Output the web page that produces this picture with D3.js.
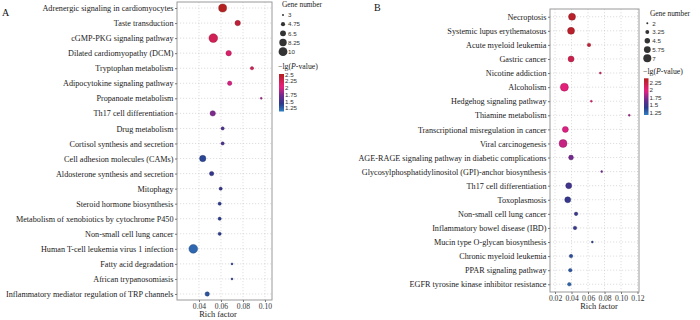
<!DOCTYPE html>
<html><head><meta charset="utf-8">
<script src="https://cdn.jsdelivr.net/npm/d3@7"></script>
<style>body{margin:0;background:#fff}svg{display:block}</style>
</head><body><svg id="c" width="700" height="320"></svg>
<script>
// ---------- Data: panel A ----------
const pathwaysA = ["Adrenergic signaling in cardiomyocytes","Taste transduction","cGMP-PKG signaling pathway","Dilated cardiomyopathy (DCM)","Tryptophan metabolism","Adipocytokine signaling pathway","Propanoate metabolism","Th17 cell differentiation","Drug metabolism","Cortisol synthesis and secretion","Cell adhesion molecules (CAMs)","Aldosterone synthesis and secretion","Mitophagy","Steroid hormone biosynthesis","Metabolism of xenobiotics by cytochrome P450","Non-small cell lung cancer","Human T-cell leukemia virus 1 infection","Fatty acid degradation","African trypanosomiasis","Inflammatory mediator regulation of TRP channels"];
const richA = [0.0615,0.0752,0.053,0.067,0.0882,0.0679,0.0966,0.0525,0.0615,0.0615,0.0434,0.0515,0.0597,0.0588,0.0588,0.0588,0.0348,0.07,0.07,0.0475];
const genesA = [9,6,10,6,4,5,3,6,4,4,7,5,4,4,4,4,10,3,3,5];
const logpA = [2.55,2.4,2.25,2.15,2.25,2.0,1.85,1.75,1.55,1.55,1.35,1.45,1.45,1.4,1.4,1.4,1.22,1.4,1.4,1.3];
const xTicksA = [0.04,0.06,0.08,0.10];
const sizeLegA = [3,4.75,6.5,8.25,10];
const colorTicksA = [2.5,2.25,2,1.75,1.5,1.25];

// ---------- Data: panel B ----------
const pathwaysB = ["Necroptosis","Systemic lupus erythematosus","Acute myeloid leukemia","Gastric cancer","Nicotine addiction","Alcoholism","Hedgehog signaling pathway","Thiamine metabolism","Transcriptional misregulation in cancer","Viral carcinogenesis","AGE-RAGE signaling pathway in diabetic complications","Glycosylphosphatidylinositol (GPI)-anchor biosynthesis","Th17 cell differentiation","Toxoplasmosis","Non-small cell lung cancer","Inflammatory bowel disease (IBD)","Mucin type O-glycan biosynthesis","Chronic myeloid leukemia","PPAR signaling pathway","EGFR tyrosine kinase inhibitor resistance"];
const richB = [0.0406,0.0394,0.0612,0.0394,0.0749,0.0313,0.064,0.11,0.0325,0.0297,0.0394,0.0766,0.0366,0.0354,0.0455,0.0442,0.0652,0.0394,0.0385,0.0373];
const genesB = [6,6,3,5,2,7,2,2,5,7,4,2,5,5,3,3,2,3,3,3];
const logpB = [2.35,2.35,2.3,2.2,2.15,2.0,2.05,1.8,1.95,1.9,1.7,1.7,1.5,1.45,1.45,1.45,1.4,1.35,1.3,1.25];
const xTicksB = [0.02,0.04,0.06,0.08,0.10,0.12];
const sizeLegB = [2,3.25,4.5,5.75,7];
const colorTicksB = [2.25,2,1.75,1.5,1.25];

const svg = d3.select("#c");
const serif = "'Liberation Serif','Times New Roman',serif";
const sans = "'Liberation Sans',Arial,sans-serif";
const stops = ["#2f7fc2","#2b3a8c","#6e2a8f","#e6207f","#b3201f"];
const stopPos = [0,0.2,0.42,0.66,1];

function panel(o){
  const g = svg.append("g");
  const x = d3.scaleLinear().domain(o.xDomain).range([o.x0,o.x1]);
  const y = d3.scalePoint().domain(o.cats).range([o.y0,o.y1]).padding(o.pad);
  const cd = o.cDomain;
  const color = d3.scaleLinear()
    .domain(stopPos.map(t=>cd[0]+t*(cd[1]-cd[0])))
    .range(stops).clamp(true);
  const size = d3.scaleSqrt().domain(o.sDomain).range(o.rRange);
  // grid
  g.selectAll(".gh").data(o.cats).join("line")
    .attr("x1",o.x0).attr("x2",o.x1).attr("y1",d=>y(d)).attr("y2",d=>y(d))
    .attr("stroke","#c8c8c8").attr("stroke-width",0.6).attr("stroke-dasharray","1.2,1.8");
  g.selectAll(".gv").data(o.xTicks).join("line")
    .attr("x1",d=>x(d)).attr("x2",d=>x(d)).attr("y1",o.y0).attr("y2",o.y1)
    .attr("stroke","#c8c8c8").attr("stroke-width",0.6).attr("stroke-dasharray","1.2,1.8");
  // box
  g.append("rect").attr("x",o.x0).attr("y",o.y0).attr("width",o.x1-o.x0).attr("height",o.y1-o.y0)
    .attr("fill","none").attr("stroke","#9a9a9a").attr("stroke-width",1);
  // y axis
  const ya = g.append("g").attr("transform",`translate(${o.x0},0)`)
    .call(d3.axisLeft(y).tickSize(2).tickPadding(1.5));
  ya.select(".domain").remove();
  ya.selectAll("line").attr("stroke","#777");
  ya.selectAll("text").attr("font-family",serif).attr("font-size",8.2).attr("fill","#1a1a1a");
  // x axis
  const xa = g.append("g").attr("transform",`translate(0,${o.y1})`)
    .call(d3.axisBottom(x).tickValues(o.xTicks).tickFormat(d3.format(".2f")).tickSize(2).tickPadding(2));
  xa.select(".domain").remove();
  xa.selectAll("line").attr("stroke","#777");
  xa.selectAll("text").attr("font-family",serif).attr("font-size",7.6).attr("fill","#333");
  g.append("text").attr("x",o.titleX).attr("y",o.y1+17).attr("text-anchor","middle")
    .attr("font-family",serif).attr("font-size",8.4).attr("fill","#222").text("Rich factor");
  // points
  const pts = o.cats.map((c,i)=>({c,r:o.rich[i],n:o.genes[i],p:o.logp[i]}));
  g.selectAll(".pt").data(pts).join("circle")
    .attr("cx",d=>x(d.r)).attr("cy",d=>y(d.c)).attr("r",d=>size(d.n))
    .attr("fill",d=>color(d.p)).attr("stroke",d=>d3.color(color(d.p)).darker(1.2)).attr("stroke-width",0.4);
  // panel letter
  g.append("text").attr("x",o.letterX).attr("y",o.letterY).attr("font-family",serif)
    .attr("font-size",10).attr("fill","#111").text(o.letter);
  // size legend
  const L = o.leg;
  g.append("text").attr("x",L.tx).attr("y",L.ty).attr("font-family",serif).attr("font-size",7.4)
    .attr("fill","#222").text("Gene number");
  const ly = d3.scalePoint().domain(o.sizeLeg).range([L.d0,L.d1]);
  g.selectAll(".ls").data(o.sizeLeg).join("circle")
    .attr("cx",L.dx).attr("cy",d=>ly(d)).attr("r",d=>size(d)).attr("fill","#333");
  g.selectAll(".lt").data(o.sizeLeg).join("text")
    .attr("x",L.dx+5).attr("y",d=>ly(d)+2.2).attr("font-family",sans).attr("font-size",6.2)
    .attr("fill","#333").text(d=>d);
  // colour legend
  const ct = g.append("text").attr("x",L.cx-1).attr("y",L.cty).attr("font-family",serif)
    .attr("font-size",7.8).attr("fill","#222");
  ct.append("tspan").text("\u2212lg(");
  ct.append("tspan").attr("font-style","italic").text("P");
  ct.append("tspan").text("-value)");
  const gid = "grad"+o.letter;
  const grad = svg.append("defs").append("linearGradient").attr("id",gid)
    .attr("x1",0).attr("y1",1).attr("x2",0).attr("y2",0);
  d3.range(0,1.0001,0.05).forEach(t=>{
    grad.append("stop").attr("offset",t).attr("stop-color",color(cd[0]+t*(cd[1]-cd[0])));
  });
  const cy = d3.scaleLinear().domain(cd).range([L.c1,L.c0]);
  g.append("rect").attr("x",L.cx).attr("y",L.c0).attr("width",L.cw).attr("height",L.c1-L.c0)
    .attr("fill",`url(#${gid})`);
  g.selectAll(".ctk").data(o.colorTicks).join("text")
    .attr("x",L.cx+L.cw+1).attr("y",d=>cy(d)+2.2).attr("font-family",sans).attr("font-size",6.2)
    .attr("fill","#333").text(d=>d);
}

panel({letter:"A",letterX:2,letterY:16,cats:pathwaysA,rich:richA,genes:genesA,logp:logpA,
  xDomain:[0.020,0.1064],x0:177,x1:272,y0:2,y1:300,pad:0.4,xTicks:xTicksA,titleX:218,
  cDomain:[1.12,2.52],sDomain:[3,10],rRange:[1,4.4],sizeLeg:sizeLegA,colorTicks:colorTicksA,
  leg:{tx:282,ty:7,dx:283,d0:15,d1:51.7,cx:279,cty:69,cw:5,c0:74,c1:111.5}});

panel({letter:"B",letterX:374,letterY:11,cats:pathwaysB,rich:richB,genes:genesB,logp:logpB,
  xDomain:[0.0139,0.1218],x0:550,x1:639,y0:9,y1:292,pad:0.55,xTicks:xTicksB,titleX:599,
  cDomain:[1.16,2.40],sDomain:[2,7],rRange:[1.0,4.0],sizeLeg:sizeLegB,colorTicks:colorTicksB,
  leg:{tx:650,ty:16,dx:647.3,d0:23.3,d1:58.3,cx:644,cty:74,cw:4.5,c0:78.3,c1:115}});
</script></body></html>
